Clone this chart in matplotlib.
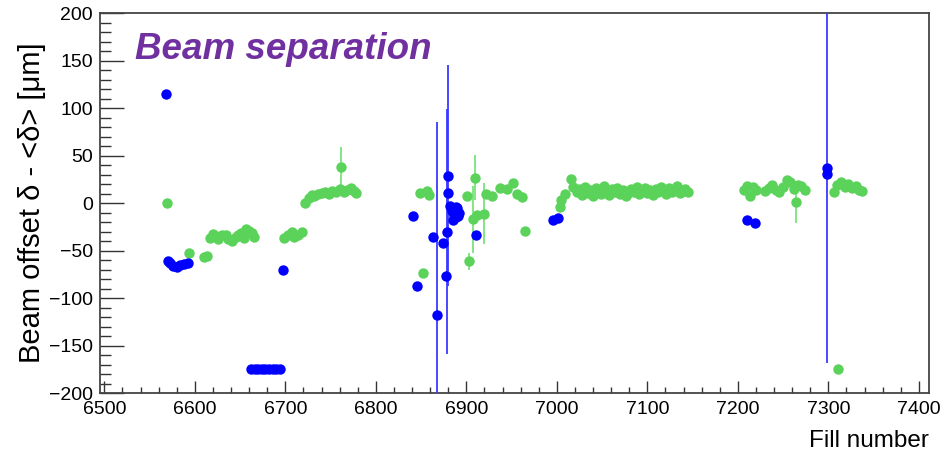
import matplotlib
matplotlib.use("Agg")
import matplotlib.pyplot as plt
from matplotlib.ticker import MultipleLocator

plt.rcParams['font.family'] = ['Liberation Sans', 'DejaVu Sans']

# ---- Data: beam 1 (blue) ----
blue_fill = [6568, 6570, 6573, 6576, 6580, 6584, 6588, 6592, 6697,
             6662, 6666, 6670, 6674, 6678, 6682, 6686, 6690, 6694,
             6841, 6846, 6863, 6867, 6874, 6878, 6879, 6880, 6880,
             6882, 6884, 6886, 6888, 6890, 6885, 6892, 6889, 6891, 6911,
             6996, 7001, 7210, 7219, 7298, 7299]
blue_val = [115, -61, -63, -66, -67, -65, -64, -63, -70,
            -175, -175, -175, -175, -175, -175, -175, -175, -175,
            -14, -87, -36, -118, -42, -77, -30, 29, 11,
            -3, -8, -12, -15, -5, -18, -10, -4, -13, -34,
            -18, -16, -18, -21, 31, 37]
blue_err = [0, 0, 0, 0, 0, 0, 0, 0, 0,
            0, 0, 0, 0, 0, 0, 0, 0, 0,
            0, 0, 0, 203, 0, 0, 129, 116, 0,
            4, 5, 4, 5, 4, 5, 4, 0, 0, 0,
            0, 0, 0, 0, 0, 205]

# ---- Data: beam 2 (green) ----
green_fill = [6569, 6593, 6610, 6613,
              6617, 6620, 6623, 6626, 6630, 6634, 6637, 6641, 6645, 6648,
              6651, 6654, 6657, 6660, 6663, 6665,
              6698, 6703, 6707, 6710, 6714, 6718,
              6722, 6726, 6729, 6732, 6736, 6740, 6744, 6748, 6752, 6756,
              6760, 6762, 6765, 6768, 6772, 6776, 6778,
              6849, 6852, 6856, 6859, 6901, 6903, 6907, 6910, 6912, 6919,
              6922, 6928, 6937, 6945, 6952, 6956, 6961, 6965,
              7003, 7005, 7009, 7016, 7018,
              7022, 7025, 7028, 7031, 7034, 7037, 7040, 7043, 7046, 7049,
              7052, 7055, 7058, 7061, 7064, 7067, 7070, 7073, 7076, 7079,
              7082, 7085, 7088, 7091, 7094, 7097, 7100, 7103, 7106, 7109,
              7112, 7115, 7118, 7121, 7124, 7127, 7130, 7133, 7136, 7139,
              7142, 7145,
              7207, 7210, 7213, 7217, 7220,
              7230, 7234, 7238, 7242, 7246, 7250, 7254, 7258, 7262, 7264,
              7266, 7270, 7274,
              7306, 7310, 7311, 7314, 7318, 7322, 7326, 7330, 7334, 7337]
green_val = [0, -52, -57, -56,
             -37, -32, -35, -38, -34, -33, -38, -40, -36, -34,
             -31, -37, -27, -29, -31, -36,
             -37, -34, -30, -36, -33, -30,
             0, 5, 9, 8, 10, 11, 12, 10, 13, 12,
             15, 38, 12, 14, 16, 13, 11,
             11, -73, 13, 9, 8, -61, -17, 27, -12, -11,
             10, 8, 16, 15, 21, 10, 7, -29,
             -4, 3, 10, 25, 17,
             12, 15, 9, 17, 11, 14, 8, 16, 12, 10,
             18, 13, 9, 15, 12, 16, 10, 14, 8, 11,
             15, 12, 17, 10, 13, 16, 11, 14, 9, 15,
             12, 17, 13, 10, 16, 12, 14, 18, 11, 13,
             15, 12,
             14, 18, 8, 17, 14,
             13, 16, 19, 14, 12, 17, 24, 22, 15, 1,
             19, 18, 14,
             12, 19, -175, 22, 17, 20, 16, 18, 14, 13]
green_err = [0, 0, 0, 0,
             0, 0, 0, 0, 0, 0, 0, 0, 0, 0,
             0, 0, 0, 0, 0, 0,
             0, 0, 0, 0, 0, 0,
             0, 0, 0, 0, 0, 0, 0, 0, 0, 0,
             0, 21, 0, 0, 0, 0, 0,
             0, 0, 0, 0, 0, 9, 35, 24, 0, 32,
             0, 0, 0, 0, 0, 0, 0, 0,
             0, 0, 0, 0, 0,
             0, 0, 0, 0, 0, 0, 0, 0, 0, 0,
             0, 0, 0, 0, 0, 0, 0, 0, 0, 6,
             0, 0, 0, 0, 0, 0, 0, 0, 0, 0,
             0, 0, 0, 0, 0, 0, 0, 0, 0, 0,
             0, 0,
             0, 0, 0, 0, 0,
             0, 0, 0, 0, 0, 0, 0, 0, 0, 22,
             0, 0, 0,
             0, 0, 0, 0, 0, 0, 0, 0, 0, 0]

x_ticks = [6500, 6600, 6700, 6800, 6900, 7000, 7100, 7200, 7300, 7400]
y_ticks = [-200, -150, -100, -50, 0, 50, 100, 150, 200]

fig = plt.figure(figsize=(9.42, 4.54), dpi=100)
ax = fig.add_axes([0.106, 0.134, 0.880, 0.837])

green_c = '#5bd35b'
green_e = '#6ee06e'
blue_c = '#0000ff'
blue_e = '#3a3aff'

ax.errorbar(green_fill, green_val, yerr=green_err, fmt='o', color=green_c,
            ecolor=green_e, elinewidth=1.2, capsize=3, ms=7.5, mew=0, zorder=3)
ax.errorbar(blue_fill, blue_val, yerr=blue_err, fmt='o', color=blue_c,
            ecolor=blue_e, elinewidth=1.3, capsize=3, ms=7.5, mew=0, zorder=4)

ax.set_xlim(6495, 7411)
ax.set_ylim(-200, 200)
ax.set_xticks(x_ticks)
ax.set_yticks(y_ticks)
ax.set_xticklabels([str(t) for t in x_ticks])
ax.set_yticklabels([str(t).replace('-', '\u2212') for t in y_ticks])
ax.xaxis.set_minor_locator(MultipleLocator(20))
ax.yaxis.set_minor_locator(MultipleLocator(10))
ax.tick_params(axis='both', which='both', direction='in', top=False, right=False,
               labelsize=14, color='#333333', width=1)
ax.tick_params(axis='x', which='major', length=9, pad=6)
ax.tick_params(axis='x', which='minor', length=4)
ax.tick_params(axis='y', which='major', length=17, pad=5)
ax.tick_params(axis='y', which='minor', length=8)
for s in ax.spines.values():
    s.set_color('#444444')
    s.set_linewidth(1.3)

ax.set_ylabel('Beam offset \u03b4 - <\u03b4> [\u03bcm]', fontsize=21, labelpad=2)
ax.set_xlabel('Fill number', fontsize=17.5, loc='right', labelpad=8)

ax.text(0.043, 0.905, 'Beam separation', transform=ax.transAxes,
        fontsize=26.5, fontweight='bold', fontstyle='italic', color='#7030a0',
        ha='left', va='center')

fig.savefig('out.png', dpi=100)
